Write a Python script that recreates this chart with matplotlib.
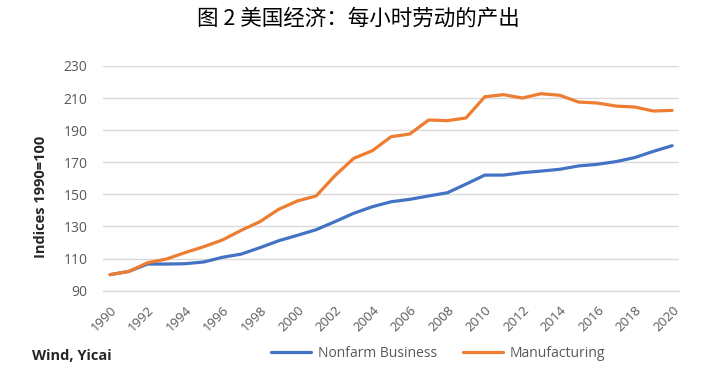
import matplotlib.pyplot as plt

# datos
years = list(range(1990, 2021))
nonfarm = [100, 102, 106.6, 106.6, 106.8, 107.9, 110.8, 112.8, 116.8, 121.1,
           124.5, 128.0, 133.0, 138.2, 142.3, 145.4, 146.9, 149.0, 151.0, 156.4,
           162.0, 162.0, 163.5, 164.5, 165.6, 167.7, 168.7, 170.4, 172.9, 176.8,
           180.3]
manufacturing = [100, 102, 107.4, 109.7, 113.7, 117.4, 121.6, 127.6, 133.0, 140.7,
                 145.9, 149.0, 161.6, 172.4, 177.2, 185.9, 187.6, 196.3, 195.9, 197.6,
                 210.8, 212.1, 210.0, 212.7, 211.7, 207.5, 206.9, 205.0, 204.4, 201.9,
                 202.3]
y_ticks = [90, 110, 130, 150, 170, 190, 210, 230]
x_ticks = list(range(1990, 2021, 2))

TEXT_GRAY = '#595959'
FONT = 'Open Sans'

fig = plt.figure(figsize=(7.17, 3.81), dpi=100)
ax = fig.add_axes([0.1441, 0.237, 0.803, 0.59])

ax.plot(years, nonfarm, color='#4472C4', lw=2.3, label='Nonfarm Business',
        solid_capstyle='round')
ax.plot(years, manufacturing, color='#ED7D31', lw=2.3, label='Manufacturing',
        solid_capstyle='round')

ax.set_xlim(1989.64, 2020.37)
ax.set_ylim(90, 230)
ax.set_yticks(y_ticks)
ax.set_xticks(x_ticks)
ax.set_xticklabels([str(x) for x in x_ticks], rotation=45, ha='right', va='top',
                   rotation_mode='anchor', family=FONT, fontsize=9.5, color=TEXT_GRAY)
ax.set_yticklabels([str(y) for y in y_ticks], family=FONT, fontsize=10, color=TEXT_GRAY)
ax.tick_params(axis='both', length=0)
ax.tick_params(axis='y', pad=11.5)
ax.tick_params(axis='x', pad=9)

ax.grid(axis='y', color='#D9D9D9', lw=1)
ax.set_axisbelow(True)
for s in ['top', 'right', 'left']:
    ax.spines[s].set_visible(False)
ax.spines['bottom'].set_color('#D9D9D9')
ax.spines['bottom'].set_linewidth(1)

fig.text(0.057, 0.484, 'Indices 1990=100', rotation=90, ha='center', va='center',
         family=FONT, fontweight='bold', fontsize=10.5, color='#262626')

fig.text(0.5, 0.95, '图 2 美国经济：每小时劳动的产出', ha='center', va='center',
         family=['Noto Sans CJK SC', 'DejaVu Sans'], fontsize=15.5, fontweight='medium')

fig.text(0.044, 0.066, 'Wind, Yicai', ha='left', va='center', family=FONT,
         fontweight='bold', fontsize=10.5, color='#262626')

leg = fig.legend(loc='center', bbox_to_anchor=(0.611, 0.072), ncol=2, frameon=False,
                 handlelength=2.9, handletextpad=0.45, columnspacing=1.9,
                 prop={'family': FONT, 'size': 10})
for t in leg.get_texts():
    t.set_color(TEXT_GRAY)

fig.savefig('out.png', dpi=100)
